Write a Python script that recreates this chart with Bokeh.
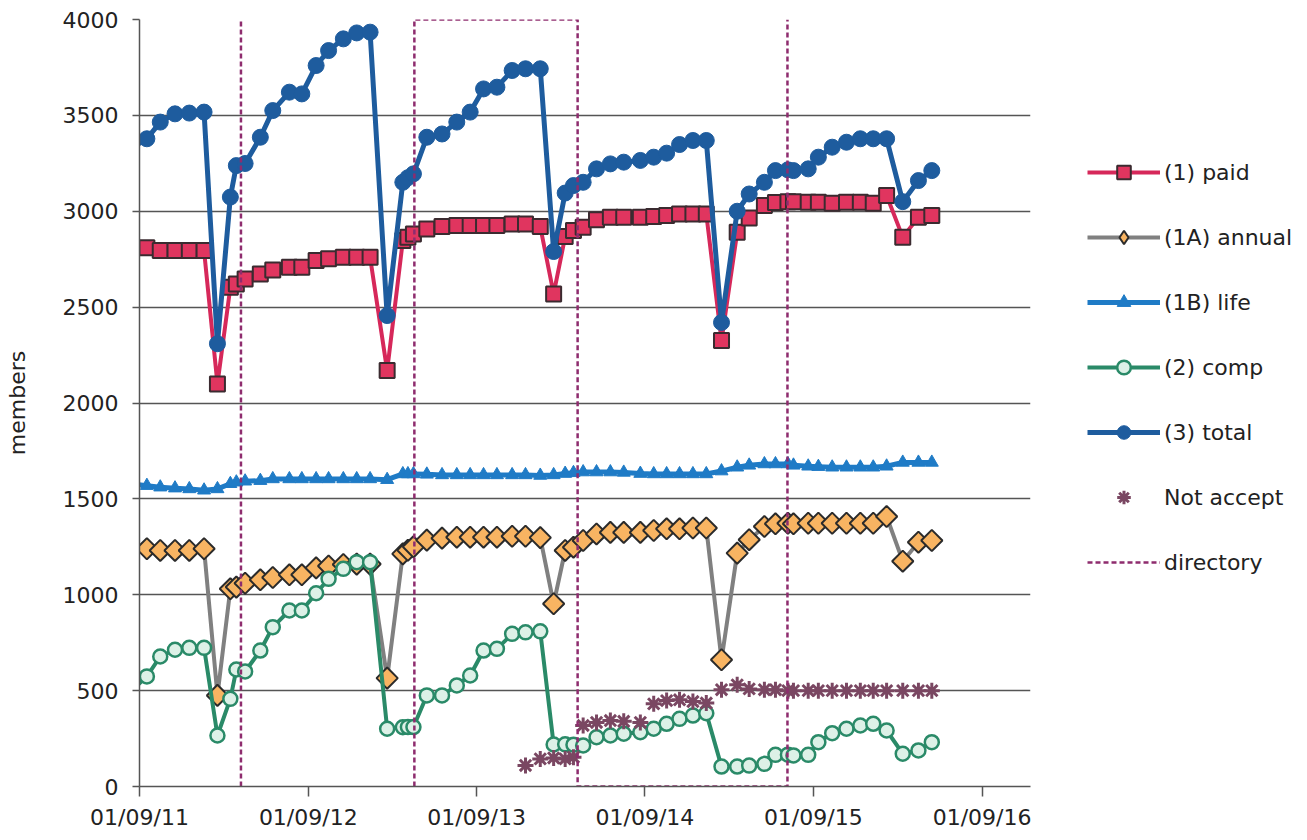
import math
import pandas as pd
from bokeh.plotting import figure
from bokeh.layouts import row
from bokeh.models import (ColumnDataSource, Range1d, FixedTicker, DatetimeTickFormatter,
                          Legend, LegendItem)
from bokeh.embed import file_html
from bokeh.resources import INLINE

NAN = float("nan")

# ---------------- data ----------------
dates = [
    "2011-08-01", "2011-09-17", "2011-10-16", "2011-11-17", "2011-12-18", "2012-01-19",
    "2012-02-17", "2012-03-16", "2012-03-29", "2012-04-17", "2012-05-20", "2012-06-16",
    "2012-07-22", "2012-08-18", "2012-09-18", "2012-10-15", "2012-11-16", "2012-12-15",
    "2013-01-13", "2013-02-19", "2013-03-25", "2013-04-05", "2013-04-17", "2013-05-16",
    "2013-06-18", "2013-07-20", "2013-08-18", "2013-09-16", "2013-10-15", "2013-11-17",
    "2013-12-16", "2014-01-17", "2014-02-15", "2014-03-12", "2014-03-30", "2014-04-20",
    "2014-05-19", "2014-06-18", "2014-07-17", "2014-08-22", "2014-09-20", "2014-10-18",
    "2014-11-15", "2014-12-14", "2015-01-12", "2015-02-14", "2015-03-20", "2015-04-15",
    "2015-05-18", "2015-06-11", "2015-07-08", "2015-07-20", "2015-08-21", "2015-09-12",
    "2015-10-12", "2015-11-12", "2015-12-12", "2016-01-09", "2016-02-07", "2016-03-13",
    "2016-04-16", "2016-05-15",
]

total = [
    3308, 3378, 3465, 3508, 3512, 3517, 2309, 3074, 3238, 3249, 3386, 3525,
    3621, 3612, 3760, 3838, 3899, 3930, 3934, 2456, 3151, 3175, 3195, 3386,
    3403, 3465, 3517, 3638, 3647, 3734, 3743, 3743, 2790, 3095, 3134, 3151,
    3221, 3247, 3256, 3265, 3282, 3303, 3348, 3369, 3369, 2420, 3000, 3090,
    3151, 3212, 3216, 3212, 3221, 3282, 3334, 3360, 3378, 3378, 3378, 3050,
    3160, 3212,
]

paid = [
    2800, 2810, 2795, 2795, 2795, 2795, 2099, 2604, 2621, 2647, 2673, 2694,
    2708, 2708, 2743, 2752, 2760, 2760, 2760, 2169, 2847, 2865, 2882, 2908,
    2920, 2926, 2926, 2926, 2926, 2934, 2934, 2920, 2569, 2868, 2899, 2917,
    2956, 2969, 2969, 2969, 2973, 2978, 2986, 2986, 2986, 2326, 2890, 2965,
    3030, 3045, 3050, 3050, 3047, 3047, 3042, 3047, 3047, 3042, 3082, 2865,
    2969, 2978,
]

annual = [
    1240, 1240, 1231, 1231, 1231, 1240, 475, 1031, 1040, 1060, 1078, 1090,
    1104, 1104, 1140, 1150, 1158, 1160, 1160, 565, 1213, 1232, 1250, 1285,
    1295, 1300, 1300, 1300, 1300, 1305, 1305, 1298, 953, 1231, 1248, 1283,
    1317, 1325, 1325, 1325, 1335, 1344, 1344, 1348, 1348, 661, 1217, 1287,
    1356, 1370, 1373, 1370, 1373, 1373, 1373, 1373, 1373, 1373, 1408, 1175,
    1274, 1283,
]

life = [
    1580, 1569, 1561, 1556, 1552, 1545, 1552, 1579, 1587, 1592, 1595, 1604,
    1604, 1604, 1604, 1604, 1604, 1604, 1604, 1600, 1630, 1630, 1630, 1628,
    1625, 1625, 1625, 1625, 1625, 1625, 1625, 1622, 1625, 1632, 1636, 1640,
    1640, 1640, 1638, 1632, 1630, 1630, 1630, 1630, 1630, 1645, 1665, 1675,
    1682, 1682, 1682, 1675, 1670, 1668, 1665, 1665, 1665, 1665, 1670, 1690,
    1690, 1690,
]

comp = [
    470, 574, 678, 713, 723, 723, 266, 457, 610, 600, 709, 831,
    918, 918, 1008, 1083, 1135, 1170, 1170, 301, 309, 310, 310, 475,
    475, 527, 579, 709, 718, 796, 804, 809, 219, 220, 218, 214,
    257, 266, 275, 283, 301, 327, 353, 370, 382, 104, 104, 109,
    118, 165, 166, 162, 165, 231, 278, 301, 318, 327, 292, 171,
    188, 231,
]

not_accept_dates = [
    "2013-12-16", "2014-01-17", "2014-02-15", "2014-03-12", "2014-03-30", "2014-04-20",
    "2014-05-19", "2014-06-18", "2014-07-17", "2014-08-22", "2014-09-20", "2014-10-18",
    "2014-11-15", "2014-12-14", "2015-01-12", "2015-02-14", "2015-03-20", "2015-04-15",
    "2015-05-18", "2015-06-11", "2015-07-08", "2015-07-20", "2015-08-21", "2015-09-12",
    "2015-10-12", "2015-11-12", "2015-12-12", "2016-01-09", "2016-02-07", "2016-03-13",
    "2016-04-16", "2016-05-15",
]
not_accept = [
    110, 144, 149, 144, 153, 318, 334, 344, 340, 334, 431, 448,
    452, 443, 435, 505, 530, 509, 505, 505, 500, 500, 500, 500,
    500, 500, 500, 500, 500, 500, 500, 500,
]

directory_dates = [
    "2012-04-08", "2012-04-08", "2012-04-08",
    "2013-04-19", "2013-04-19", "2014-04-08", "2014-04-08", "2015-07-07", "2015-07-07",
]
directory_levels = [0, 4000, NAN, 0, 4000, 4000, 0, 0, 4000]

tick_dates = ["2011-09-01", "2012-09-01", "2013-09-01", "2014-09-01", "2015-09-01", "2016-09-01"]
tick_labels = ["01/09/11", "01/09/12", "01/09/13", "01/09/14", "01/09/15", "01/09/16"]
y_ticks = [0, 500, 1000, 1500, 2000, 2500, 3000, 3500, 4000]

x_start, x_end = "2011-09-01", "2016-12-15"
y_start, y_end = 0, 4000

# ---------------- styles ----------------
FONT = "DejaVu Sans"
TXT = "#222222"
S_PAID_L = dict(line_color="#D6285A", line_width=4)
S_PAID_M = dict(marker="square", size=15, fill_color="#E0355F", line_color="#3B2B30", line_width=2)
S_ANN_L = dict(line_color="#808080", line_width=4)
S_ANN_M = dict(size=15, fill_color="#F8B462", line_color="#2B2B2B", line_width=2)
S_LIFE_L = dict(line_color="#1F7BC6", line_width=5)
S_LIFE_M = dict(marker="triangle", size=13, fill_color="#1F7BC6", line_color="#1F7BC6")
S_COMP_L = dict(line_color="#2A8A68", line_width=4)
S_COMP_M = dict(marker="circle", size=14, fill_color="#DDF1E7", line_color="#2A8A68", line_width=2.5)
S_TOT_L = dict(line_color="#1E5C9E", line_width=5)
S_TOT_M = dict(marker="circle", size=16, fill_color="#1E5C9E", line_color="#1E5C9E")
S_NA_M = dict(marker="asterisk", size=16, line_color="#7A4762", line_width=3)
S_DIR_L = dict(line_color="#8E2C6E", line_width=2.5, line_dash="5 3")

# ---------------- main chart ----------------
src = ColumnDataSource(dict(date=pd.to_datetime(dates), total=total, paid=paid,
                            annual=annual, life=life, comp=comp))
na_src = ColumnDataSource(dict(date=pd.to_datetime(not_accept_dates), value=not_accept))
dir_src = ColumnDataSource(dict(date=pd.to_datetime(directory_dates), level=directory_levels))

p = figure(width=1060, height=840, x_axis_type="datetime",
           x_range=Range1d(pd.Timestamp(x_start), pd.Timestamp(x_end)),
           y_range=Range1d(y_start, y_end),
           output_backend="svg", toolbar_location=None,
           min_border_left=139, min_border_right=30, min_border_top=19, min_border_bottom=54)

p.outline_line_color = None
p.background_fill_color = "white"
p.border_fill_color = "white"
p.xgrid.visible = False
p.ygrid.grid_line_color = "#555555"
p.ygrid.grid_line_width = 1.3

tick_ms = [float(pd.Timestamp(d).value // 10**6) for d in tick_dates]
p.xaxis.ticker = FixedTicker(ticks=tick_ms, minor_ticks=[])
p.xaxis.formatter = DatetimeTickFormatter(years="%d/%m/%y", months="%d/%m/%y", days="%d/%m/%y")
p.xaxis.major_label_overrides = {ms: lbl for ms, lbl in zip(tick_ms, tick_labels)}
p.yaxis.ticker = FixedTicker(ticks=y_ticks, minor_ticks=[])

for ax in (p.xaxis[0], p.yaxis[0]):
    ax.axis_line_color = "#555555"
    ax.axis_line_width = 1.5
    ax.major_tick_line_color = "#555555"
    ax.major_tick_line_width = 1.5
    ax.major_tick_in = 0
    ax.minor_tick_out = 0
    ax.minor_tick_in = 0
    ax.major_label_text_font = FONT
    ax.major_label_text_font_size = "22px"
    ax.major_label_text_color = TXT

p.xaxis.major_tick_out = 10
p.xaxis.major_label_standoff = 8
p.yaxis.major_tick_out = 7
p.yaxis.major_label_standoff = 14
p.yaxis.axis_label = "members"
p.yaxis.axis_label_text_font = FONT
p.yaxis.axis_label_text_font_size = "22px"
p.yaxis.axis_label_text_font_style = "normal"
p.yaxis.axis_label_text_color = TXT
p.yaxis.axis_label_standoff = 30

# series (Excel drawing order)
p.line("date", "paid", source=src, **S_PAID_L)
p.scatter("date", "paid", source=src, **S_PAID_M)
p.line("date", "annual", source=src, **S_ANN_L)
p.scatter("date", "annual", source=src, marker="square", angle=math.pi / 4, **S_ANN_M)
p.line("date", "life", source=src, **S_LIFE_L)
p.scatter("date", "life", source=src, **S_LIFE_M)
p.line("date", "comp", source=src, **S_COMP_L)
p.scatter("date", "comp", source=src, **S_COMP_M)
p.line("date", "total", source=src, **S_TOT_L)
p.scatter("date", "total", source=src, **S_TOT_M)
p.scatter("date", "value", source=na_src, **S_NA_M)
p.line("date", "level", source=dir_src, **S_DIR_L)

# ---------------- legend panel (keys only; their single point lies outside the view) ----------------
k = figure(width=247, height=840, x_range=Range1d(0, 1), y_range=Range1d(0, 1),
           x_axis_location=None, y_axis_location=None, output_backend="svg",
           toolbar_location=None, min_border=0)
k.outline_line_color = None
k.grid.visible = False
k.background_fill_color = "white"
k.border_fill_color = "white"
ksrc = ColumnDataSource(dict(x=[-5.0], y=[-5.0]))

def key(line_style=None, marker_style=None):
    rs = []
    if line_style:
        rs.append(k.line("x", "y", source=ksrc, **line_style))
    if marker_style:
        rs.append(k.scatter("x", "y", source=ksrc, **marker_style))
    return rs

legend = Legend(items=[
    LegendItem(label="(1) paid", renderers=key(S_PAID_L, S_PAID_M), index=0),
    LegendItem(label="(1A) annual", renderers=key(S_ANN_L, dict(marker="diamond", **S_ANN_M)), index=0),
    LegendItem(label="(1B) life", renderers=key(S_LIFE_L, S_LIFE_M), index=0),
    LegendItem(label="(2) comp", renderers=key(S_COMP_L, S_COMP_M), index=0),
    LegendItem(label="(3) total", renderers=key(S_TOT_L, S_TOT_M), index=0),
    LegendItem(label="Not accept", renderers=key(None, S_NA_M), index=0),
    LegendItem(label="directory", renderers=key(S_DIR_L, None), index=0),
], location=(27, 207), orientation="vertical", glyph_width=73, glyph_height=34,
   label_height=34, spacing=31, padding=0, margin=0, label_standoff=4,
   label_text_font=FONT, label_text_font_size="22px", label_text_color=TXT,
   border_line_color=None, background_fill_alpha=0)
k.add_layout(legend, "center")

layout = row(p, k)
open("out.html", "w").write(file_html(layout, INLINE))
